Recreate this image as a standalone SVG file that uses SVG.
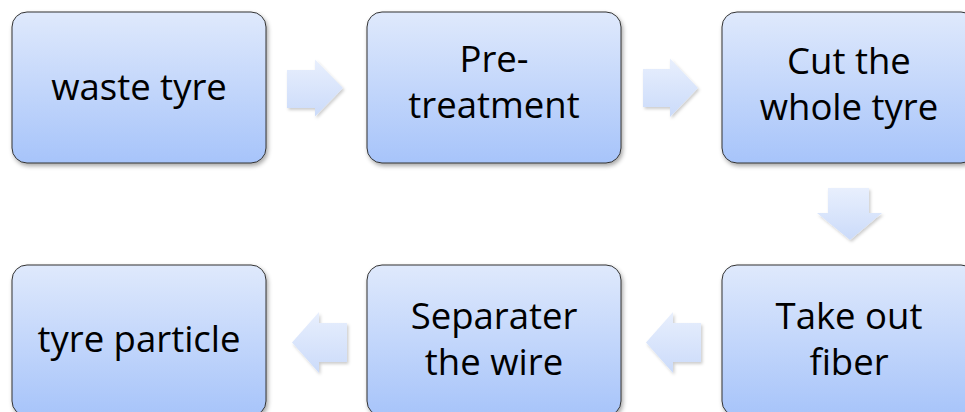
<svg xmlns="http://www.w3.org/2000/svg" width="965" height="412" viewBox="0 0 965 412">
<defs>
<linearGradient id="boxFill" x1="0" y1="0" x2="0" y2="1">
<stop offset="0" stop-color="#dfe9fc"/>
<stop offset="1" stop-color="#a7c4fa"/>
</linearGradient>
<linearGradient id="arrowFill" x1="0" y1="0" x2="0" y2="1">
<stop offset="0" stop-color="#e8effd"/>
<stop offset="1" stop-color="#cbdbfa"/>
</linearGradient>
<filter id="shadow" x="-10%" y="-10%" width="125%" height="130%">
<feDropShadow dx="1.5" dy="2.5" stdDeviation="2" flood-color="#000" flood-opacity="0.35"/>
</filter>
<filter id="ashadow" x="-20%" y="-20%" width="150%" height="150%">
<feDropShadow dx="1.5" dy="2" stdDeviation="1.8" flood-color="#000" flood-opacity="0.2"/>
</filter>
</defs>
<style>
.box{fill:url(#boxFill);stroke:#333;stroke-width:1;filter:url(#shadow)}
.lbl{font-family:"Open Sans","Noto Sans","Liberation Sans",sans-serif;font-size:36.5px;fill:#000;text-anchor:middle}
.arr{fill:url(#arrowFill);stroke:none;filter:url(#ashadow)}
</style>
<rect width="965" height="412" fill="#fff"/>
<g id="connectors">
<polygon class="arr" points="287,70 315,70 315,59.5 343,88 315,116.5 315,108 287,108"/>
<polygon class="arr" points="643,69 670,69 670,58.5 698,88 670,117 670,107 643,107"/>
<polygon class="arr" points="828,188 869,188 869,213 882,213 850,240 817,213 828,213"/>
<polygon class="arr" points="701,323 673,323 673,312 646,342.5 673,373 673,362 701,362"/>
<polygon class="arr" points="347,323 319,323 319,312 292,342.5 319,373 319,362 347,362"/>
</g>
<g id="node-waste-tyre">
<rect class="box" x="12" y="12" width="254" height="151" rx="15"/>
<text class="lbl" x="139" y="100">waste tyre</text>
</g>
<g id="node-pre-treatment">
<rect class="box" x="367" y="12" width="254" height="151" rx="15"/>
<text class="lbl" x="494" y="72"><tspan x="494">Pre-</tspan><tspan x="494" dy="46">treatment</tspan></text>
</g>
<g id="node-cut-whole-tyre">
<rect class="box" x="722" y="12" width="254" height="151" rx="15"/>
<text class="lbl" x="849" y="74"><tspan x="849">Cut the</tspan><tspan x="849" dy="46">whole tyre</tspan></text>
</g>
<g id="node-take-out-fiber">
<rect class="box" x="722" y="265" width="254" height="151" rx="15"/>
<text class="lbl" x="849" y="329"><tspan x="849">Take out</tspan><tspan x="849" dy="46">fiber</tspan></text>
</g>
<g id="node-separater-wire">
<rect class="box" x="367" y="265" width="254" height="151" rx="15"/>
<text class="lbl" x="494" y="329"><tspan x="494">Separater</tspan><tspan x="494" dy="46">the wire</tspan></text>
</g>
<g id="node-tyre-particle">
<rect class="box" x="12" y="265" width="254" height="151" rx="15"/>
<text class="lbl" x="139" y="352">tyre particle</text>
</g>
</svg>
